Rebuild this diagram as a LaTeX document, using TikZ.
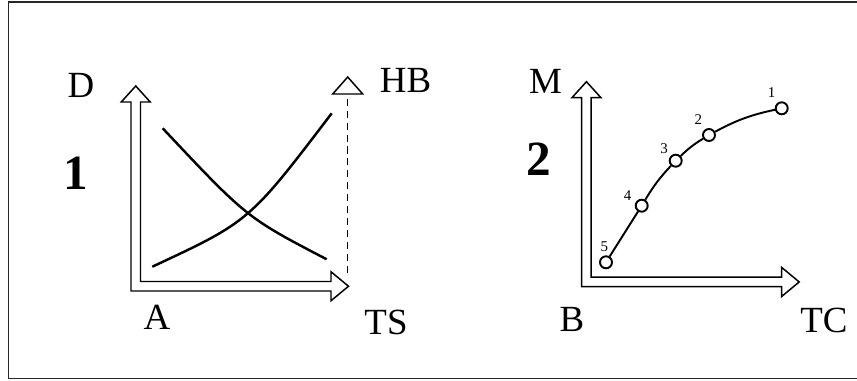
\documentclass[tikz,border=0pt]{standalone}
\usepackage{fontspec}
\setmainfont{Liberation Serif}
\usetikzlibrary{arrows.meta}
\tikzset{
  axlabel/.style={inner sep=0pt,font=\fontsize{21}{24}\selectfont},
  panelno/.style={inner sep=0pt,font=\fontsize{28}{32}\selectfont\bfseries},
  ptlabel/.style={inner sep=0pt,font=\fontsize{8.5}{10}\selectfont},
  hollowaxis/.style={draw=black,fill=white,line width=0.85pt,line join=miter},
  crossline/.style={line width=1.4pt,black},
  ptnode/.style={circle,draw=black,fill=white,line width=1.1pt,minimum size=0.24cm,inner sep=0pt},
  ptedge/.style={line width=1.1pt,black},
  hbline/.style={line width=0.6pt,dash pattern=on 4pt off 2.8pt},
  hbhead/.style={draw=black,fill=white,line width=0.85pt,line join=miter},
  frameline/.style={line width=0.85pt,black!85},
}

\begin{document}
\begin{tikzpicture}
  \useasboundingbox (0,0) rectangle (17.14,-7.62);
  \draw[frameline] (17.14,-0.04) -- (0.17,-0.04) -- (0.17,-7.566) -- (17.14,-7.566);

  % panel 1
  \coordinate (oA) at (2.62,-5.82);
  \draw[hollowaxis,shift={(oA)}] (0,0) -- (0,3.78) -- (-0.195,3.78) -- (0.095,4.10) -- (0.385,3.78)
    -- (0.19,3.78) -- (0.19,0.19) -- (4.0,0.19) -- (4.0,0.385) -- (4.35,0.095) -- (4.0,-0.195)
    -- (4.0,0) -- cycle;
  \coordinate (hbBot) at (6.954,-5.46);
  \coordinate (hbTop) at (6.954,-1.88);
  \draw[hbline] (hbBot) -- (hbTop);
  \draw[hbhead,shift={(hbTop)}] (-0.3,0) -- (0,0.34) -- (0.3,0) -- cycle;
  \draw[crossline] (3.254,-2.566) .. controls (4.934,-4.352) .. (6.534,-5.186);
  \draw[crossline] (3.046,-5.334) .. controls (4.988,-4.428) .. (6.634,-2.266);
  \node[axlabel] (lD) at (1.62,-1.71) {D};
  \node[axlabel] (lHB) at (8.11,-1.61) {HB};
  \node[axlabel] (lA) at (3.14,-6.34) {A};
  \node[axlabel] (lTS) at (7.72,-6.45) {TS};
  \node[panelno] (n1) at (1.52,-3.47) {1};

  % panel 2
  \coordinate (oB) at (11.634,-5.734);
  \draw[hollowaxis,shift={(oB)}] (0,0) -- (0,3.78) -- (-0.195,3.78) -- (0.095,4.10) -- (0.385,3.78)
    -- (0.19,3.78) -- (0.19,0.19) -- (4.0,0.19) -- (4.0,0.385) -- (4.35,0.095) -- (4.0,-0.195)
    -- (4.0,0) -- cycle;
  \node[axlabel] (lM) at (10.91,-1.63) {M};
  \node[axlabel] (lB) at (11.44,-6.38) {B};
  \node[axlabel] (lTC) at (16.48,-6.41) {TC};
  \node[panelno] (n2) at (10.78,-3.18) {2};
  \node[ptnode] (p5) at (12.12,-5.246) {};
  \node[ptnode] (p4) at (12.834,-4.114) {};
  \node[ptnode] (p3) at (13.514,-3.214) {};
  \node[ptnode] (p2) at (14.18,-2.70) {};
  \node[ptnode] (p1) at (15.634,-2.166) {};
  \draw[ptedge] (p5) -- (p4);
  \draw[ptedge] (p4) to[bend left=6] (p3);
  \draw[ptedge] (p3) to[bend left=6] (p2);
  \draw[ptedge] (p2) to[bend left=8] (p1);
  \node[ptlabel] (t5) at (12.086,-4.934) {5};
  \node[ptlabel] (t4) at (12.554,-3.92) {4};
  \node[ptlabel] (t3) at (13.28,-2.966) {3};
  \node[ptlabel] (t2) at (13.966,-2.386) {2};
  \node[ptlabel] (t1) at (15.434,-1.854) {1};
\end{tikzpicture}
\end{document}
